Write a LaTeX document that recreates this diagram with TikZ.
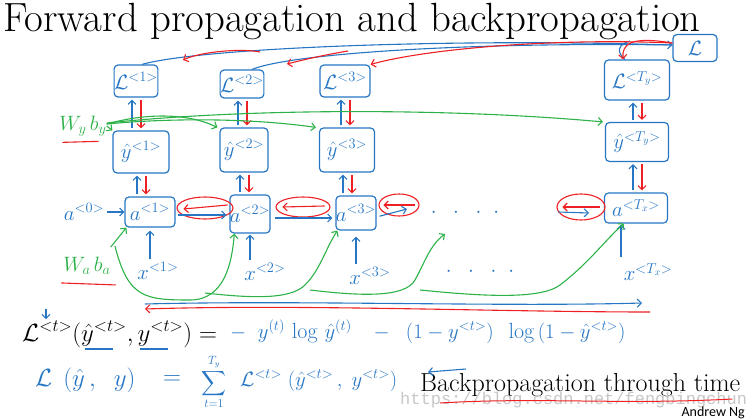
\documentclass[tikz,border=0pt]{standalone}
\usepackage{amsmath}
\usepackage{fontspec}
\newfontfamily\andrewfont{Carlito}
\newfontfamily\wmfont{Liberation Mono}
\usetikzlibrary{arrows.meta,shapes.geometric,calc}
\definecolor{hb}{RGB}{38,118,196}
\definecolor{hr}{RGB}{238,32,36}
\definecolor{hg}{RGB}{44,178,72}
\tikzset{
 box/.style={draw=hb,line width=1.2pt,rounded corners=4pt,text=hb,inner sep=0pt,font=\fontsize{20}{22}\selectfont},
 ha/.style={line width=1.1pt,-{Straight Barb[length=4pt,width=8pt]}},
 bl/.style={draw=hb,ha},
 rd/.style={draw=hr,ha},
 gn/.style={draw=hg,ha},
 bline/.style={draw=hb,line width=1.1pt},
 rline/.style={draw=hr,line width=1.1pt},
 hand/.style={text=hb,inner sep=0pt,font=\fontsize{20}{22}\selectfont},
 eqhand/.style={text=hb,inner sep=0pt,font=\fontsize{23}{25}\selectfont},
 glab/.style={text=hg,inner sep=0pt,font=\fontsize{21}{23}\selectfont},
 redring/.style={draw=hr,line width=1.1pt,ellipse,inner sep=0pt},
}
\newcommand\updown[2]{%
 \path (#2.south) ++(-4,0) coordinate (tmpU) ++(9,0) coordinate (tmpD);
 \draw[bl,shorten <=2pt,shorten >=2pt] (tmpU |- #1.north) -- (tmpU);
 \draw[rd,shorten <=2pt,shorten >=2pt] (tmpD) -- (tmpD |- #1.north);}
\begin{document}
\begin{tikzpicture}[x=1pt,y=-1pt]
\useasboundingbox (0,0) rectangle (750,420);
% title
\node[anchor=base west,inner sep=0pt,font=\fontsize{40.8}{44}\selectfont] (title) at (3,32) {Forward propagation and backpropagation};
% loss nodes
\node[box,minimum width=42pt,minimum height=32pt] (L1) at (136,81) {$\mathcal{L}^{<1>}$};
\node[box,minimum width=43pt,minimum height=28pt] (L2) at (242,84) {$\mathcal{L}^{<2>}$};
\node[box,minimum width=50pt,minimum height=32pt] (L3) at (345,81) {$\mathcal{L}^{<3>}$};
\node[box,minimum width=65pt,minimum height=40pt] (LT) at (637,80) {$\mathcal{L}^{<T_y>}$};
\node[box,minimum width=44pt,minimum height=27pt] (Ltot) at (695,48) {$\mathcal{L}$};
% yhat nodes
\node[box,minimum width=56pt,minimum height=42pt] (Y1) at (141,152) {$\hat{y}^{<1>}$};
\node[box,minimum width=48pt,minimum height=44pt] (Y2) at (244,150) {$\hat{y}^{<2>}$};
\node[box,minimum width=55pt,minimum height=44pt] (Y3) at (347,150) {$\hat{y}^{<3>}$};
\node[box,minimum width=63pt,minimum height=39pt] (YT) at (637,142) {$\hat{y}^{<T_y>}$};
% a nodes
\node[box,minimum width=50pt,minimum height=30pt] (A1) at (150,212) {$a^{<1>}$};
\node[box,minimum width=38pt,minimum height=38pt] (A2) at (250,214) {$a^{<2>}$};
\node[box,minimum width=40pt,minimum height=34pt] (A3) at (356,213) {$a^{<3>}$};
\node[box,minimum width=63pt,minimum height=30pt] (AT) at (636,208) {$a^{<T_x>}$};
\node[hand] (A0) at (84,212) {$a^{<0>}$};
% x nodes
\node[hand] (X1) at (158,271) {$x^{<1>}$};
\node[hand] (X2) at (265,272) {$x^{<2>}$};
\node[hand] (X3) at (370,276) {$x^{<3>}$};
\node[hand] (XT) at (648,272) {$x^{<T_x>}$};
% dots
\node[hand] (D1) at (465,213) {$\cdot\ \ \cdot\ \ \cdot\ \ \cdot$};
\node[hand] (D2) at (480,272) {$\cdot\ \ \cdot\ \ \cdot\ \ \cdot$};
% vertical arrows
\updown{Y1}{L1}\updown{Y2}{L2}\updown{Y3}{L3}\updown{YT}{LT}
\updown{A1}{Y1}\updown{A2}{Y2}\updown{A3}{Y3}\updown{AT}{YT}
% x -> a
\draw[bl,shorten <=3pt,shorten >=3pt] (X1.north -| A1.south) -- (A1.south);
\draw[bl,shorten <=3pt,shorten >=1pt] (X2.north -| A2.south) -- (A2.south);
\draw[bl,shorten <=3pt,shorten >=6pt] (X3.north -| A3.south) -- (A3.south);
\draw[bl,shorten <=6pt,shorten >=1pt] (XT.north -| AT.south) ++(-15,0) -- ([xshift=-15pt]AT.south);
% a -> a
\draw[bl,shorten <=3pt] (A0) -- (A1);
\node[redring,minimum width=56pt,minimum height=22pt] (E1) at (205,208) {};
\node[redring,minimum width=54pt,minimum height=20pt] (E2) at (303,207) {};
\node[redring,minimum width=40pt,minimum height=22pt] (E3) at (399,205) {};
\node[redring,minimum width=48pt,minimum height=26pt] (E4) at (581,207) {};
\draw[bl,shorten <=2pt,shorten >=3pt] ([yshift=-3pt]A1.east) -- ([yshift=-3pt]A1.east -| A2.west);
\draw[bl,shorten <=4pt,shorten >=3pt] ([yshift=-4pt]A2.east) -- ([yshift=-4pt]A2.east -| A3.west);
\draw[bl,shorten <=3pt] ([yshift=-4pt]A3.east) -- ($(E3.center)+(8,4)$);
\draw[bl] ($(E4.west)+(2,5)$) -- ($(E4.center)+(8,6)$);
\draw[rd] ($(E1.east)+(-6,-3)$) -- ($(E1.west)+(7,1)$);
\draw[rd] ($(E2.east)+(-6,-1)$) -- ($(E2.west)+(7,0)$);
\draw[rd] ($(E3.east)+(-5,0)$) -- ($(E3.west)+(5,0)$);
\draw[rd] ($(E4.east)+(-6,0)$) -- ($(E4.west)+(6,0)$);
% top lines
\draw[bl] ([xshift=6pt]L1.north) .. controls (200,48) and (450,38) .. ([yshift=3pt]Ltot.west);
\draw[bline] ([xshift=10pt]L2.north) .. controls (290,54) and (460,42) .. ([yshift=3pt]Ltot.west);
\draw[bline] ([xshift=-12pt]LT.north) .. controls (616,52) and (618,44) .. (630,41);
\draw[rd] ([yshift=5pt]Ltot.west) .. controls (560,38) and (430,48) .. (L3.north east);
\draw[rd] ([yshift=5pt]Ltot.west) .. controls (630,36) and (622,44) .. ([xshift=-14pt]LT.north);
\coordinate (r1s) at (260,52); \coordinate (r1e) at (183,60);
\coordinate (r2s) at (348,51); \coordinate (r2e) at (287,64);
\draw[rd] (r1s) .. controls (240,48) and (200,52) .. (r1e);
\draw[rd] (r2s) .. controls (330,54) and (310,58) .. (r2e);
% green W_y b_y
\node[glab] (Wy) at (83,126) {$W_y\,b_y$};
\draw[rline] ($(Wy.south west)+(3,6)$) -- ($(Wy.south east)+(-8,5)$);
\draw[gn] (Wy.east) -- (Y1.north west);
\draw[gn] ([yshift=2pt]Wy.east) .. controls (150,112) and (190,114) .. ([xshift=-2pt]Y2.north west);
\draw[gn] ([yshift=2pt]Wy.east) .. controls (170,118) and (250,118) .. ([xshift=-3pt]Y3.north west);
\draw[gn] ([yshift=3pt]Wy.east) .. controls (250,108) and (450,108) .. ([xshift=-2pt]YT.north west);
% green W_a b_a
\node[glab] (Wa) at (87,266) {$W_a\,b_a$};
\draw[rline] ($(Wa.south west)+(-2,8)$) -- ($(Wa.south east)+(5,10)$);
\draw[gn] ([yshift=10pt]Wa.north east) -- ([xshift=2pt]A1.south west);
\coordinate (g2s) at (115,246);
\draw[gn] (g2s) .. controls (128,298) and (145,300) .. (190,300) .. controls (225,300) and (232,262) .. ([xshift=5pt]A2.south west);
\coordinate (g3s) at (205,293);
\draw[gn] (g3s) .. controls (250,298) and (290,300) .. (305,285) .. controls (320,270) and (325,250) .. ([xshift=2pt]A3.south west);
\coordinate (g4s) at (310,290); \coordinate (g4e) at (445,234);
\draw[gn] (g4s) .. controls (360,296) and (405,298) .. (415,280) .. controls (425,262) and (430,245) .. (g4e);
\coordinate (g5s) at (420,290);
\draw[gn] (g5s) .. controls (480,296) and (540,300) .. (560,285) .. controls (590,262) and (605,240) .. ([xshift=-12pt]AT.south);
% long bottom arrows
\coordinate (bs) at (145,304); \coordinate (be) at (642,303);
\draw[bl] (bs) .. controls (300,300) and (500,307) .. (be);
\coordinate (rs) at (650,312); \coordinate (re) at (145,309);
\draw[rd] (rs) .. controls (500,312) and (300,304) .. (re);
% equations
\node[anchor=base west,inner sep=0pt,font=\fontsize{25}{27}\selectfont] (eq1) at (22,341) {$\mathcal{L}^{<t>}(\hat{y}^{<t>},y^{<t>}) =$};
\node[hand,font=\fontsize{22}{24}\selectfont,anchor=base west] (rhs) at (230,338) {$-\;\;y^{(t)}\,\log\,\hat{y}^{(t)}\;\;\;-\;\;(1-y^{<t>})\;\;\log\,(1-\hat{y}^{<t>})$};
\draw[bline] ($(eq1.base west)+(63,8)$) -- +(28,0);
\draw[bline] ($(eq1.base west)+(118,8)$) -- +(28,0);
\draw[bl] ($(eq1.north west)+(24,-12)$) -- ($(eq1.north west)+(24,-2)$);
\node[eqhand,anchor=base west] (eq2a) at (35,386) {$\mathcal{L}\;\,(\hat{y}\,,\;\;y)$};
\node[eqhand] (eq2b) at (172,380) {$=$};
\node[hand,font=\fontsize{17}{19}\selectfont] (sum) at (214,382) {$\displaystyle\sum_{t=1}^{T_y}$};
\node[hand,font=\fontsize{22}{24}\selectfont,anchor=base west] (eq2c) at (240,386) {$\mathcal{L}^{<t>}\;(\hat{y}^{<t>}\,,\;y^{<t>})$};
\node[anchor=base west,inner sep=0pt,font=\fontsize{26}{28}\selectfont] (bptt) at (420,391) {Backpropagation through time};
\coordinate (ars) at (466,369); \coordinate (are) at (428,372);
\draw[bl] (ars) -- (are);
\node[anchor=base west,inner sep=0pt,text=black!22,font=\wmfont\fontsize{17}{18}\selectfont] (wm) at (400,404) {https://blog.csdn.net/fengbingchun};
\draw[rline,line width=1pt] ($(bptt.base west)+(20,12)$) .. controls ($(bptt.base west)+(120,6)$) and ($(bptt.base west)+(200,14)$) .. ($(bptt.base east)+(-8,8)$);
\node[anchor=base east,inner sep=0pt,font=\andrewfont\fontsize{14}{16}\selectfont] (an) at (745,416) {Andrew Ng};
\end{tikzpicture}
\end{document}
